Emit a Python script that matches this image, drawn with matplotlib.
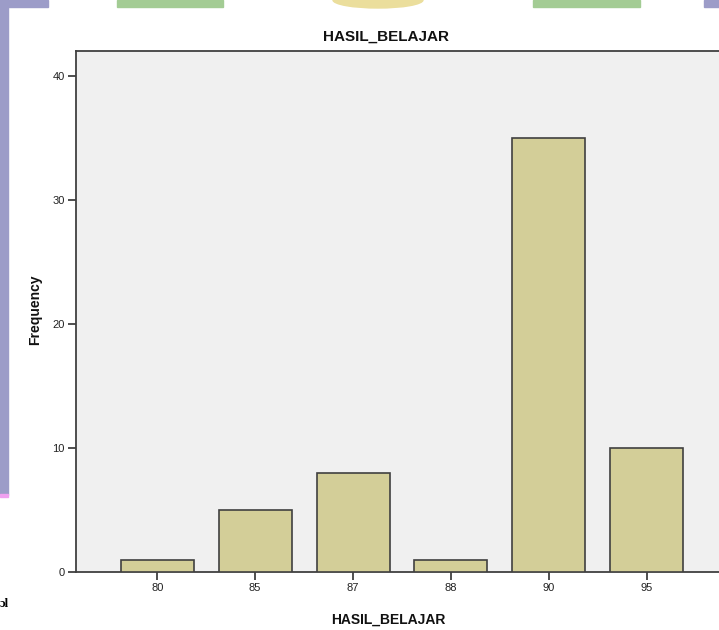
import matplotlib.pyplot as plt
from matplotlib.patches import Rectangle, Ellipse

plt.rcParams['font.family'] = ['Liberation Sans', 'DejaVu Sans']

# data
categories = ['80', '85', '87', '88', '90', '95']
frequency = [1, 5, 8, 1, 35, 10]
y_ticks = [0, 10, 20, 30, 40]

W, H = 719, 630
fig = plt.figure(figsize=(W / 100, H / 100), dpi=100)
fig.patch.set_facecolor('white')

# bits of the page behind the screenshot
def px_rect(x0, y0, x1, y1, color):
    fig.patches.append(Rectangle((x0 / W, 1 - y1 / H), (x1 - x0) / W, (y1 - y0) / H,
                                 transform=fig.transFigure, color=color, zorder=0))

px_rect(0, 0, 8, 495, '#9c9cc8')
px_rect(0, 494, 8, 497, '#f0a0f0')
px_rect(0, 0, 48, 7, '#9c9cc8')
px_rect(117, 0, 223, 7, '#a3cc94')
px_rect(533, 0, 640, 7, '#a3cc94')
px_rect(704, 0, 719, 7, '#9c9cc8')
fig.patches.append(Ellipse((378 / W, 1 - 0 / H), 90 / W, 16 / H,
                           transform=fig.transFigure, color='#ebde9c', zorder=0))

# axes box in pixels: left 76, right 728 (cut off), top 51, bottom 572
ax = fig.add_axes([76 / W, 1 - 572 / H, (728 - 76) / W, (572 - 51) / H])
ax.set_facecolor('#f0f0f0')

x = range(len(categories))
ax.bar(x, frequency, width=0.745, color='#d3ce98', edgecolor='#404040', linewidth=1.2, zorder=3)

ax.set_xlim(-0.83, len(categories) - 0.17)
ax.set_ylim(0, 42)
ax.set_xticks(list(x))
ax.set_xticklabels(categories)
ax.set_yticks(y_ticks)

for side in ['left', 'bottom', 'top', 'right']:
    ax.spines[side].set_color('#404040')
    ax.spines[side].set_linewidth(1.3)
ax.tick_params(axis='both', direction='out', length=6, width=1.3, color='#404040',
               labelsize=8, labelcolor='#222222', pad=2)

fig.text(386 / W, 1 - 37 / H, 'HASIL_BELAJAR', ha='center', va='center',
         fontsize=11, fontweight='bold', color='#111111')
fig.text(388 / W, 1 - 620 / H, 'HASIL_BELAJAR', ha='center', va='center',
         fontsize=10, fontweight='bold', color='#111111')
fig.text(35 / W, 1 - 310 / H, 'Frequency', ha='center', va='center', rotation=90,
         fontsize=10, fontweight='bold', color='#111111')
fig.text(0, 1 - 604 / H, 'ɔl', ha='left', va='center', fontsize=9,
         family='Liberation Serif', fontweight='bold')

fig.savefig('out.png', dpi=100)
